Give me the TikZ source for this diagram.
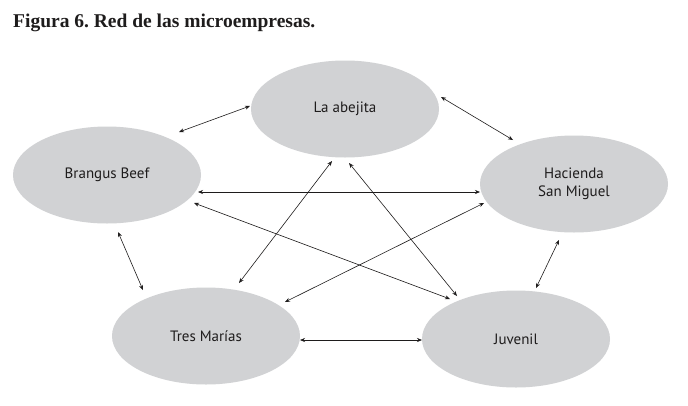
\documentclass[tikz,border=0pt]{standalone}
\usepackage{fontspec}
\setmainfont{Liberation Serif}
\newfontfamily\labelfont{PT Sans}
\usetikzlibrary{arrows.meta,calc,shapes.geometric}
\definecolor{ellgray}{RGB}{209,210,212}
\definecolor{txtcol}{RGB}{30,28,28}
\tikzset{
  firm/.style={ellipse, fill=ellgray, draw=none, inner sep=0pt,
    minimum width=188pt, minimum height=97pt, align=center,
    text=txtcol, font=\labelfont\fontsize{15}{18}\selectfont},
  link/.style={{Stealth[length=5pt,width=4pt]}-{Stealth[length=5pt,width=4pt]}, line width=0.6pt, draw=txtcol}
}
\begin{document}
\frenchspacing
\begin{tikzpicture}[x=1pt,y=-1pt]
\useasboundingbox[fill=white] (0,0) rectangle (688,405);
\node[anchor=base west, inner sep=0pt, text=txtcol, font=\bfseries\fontsize{19.5}{22}\selectfont] (title) at (13,27) {Figura 6. Red de las microempresas.};
\node[firm] (abe) at (345,109) {La abejita};
\node[firm] (bra) at (107,175) {Brangus Beef};
\node[firm] (hac) at (574,184) {Hacienda\\San Miguel};
\node[firm] (tre) at (206,336) {Tres Marías};
\node[firm] (juv) at (516,339) {Juvenil};
\draw[link] ($(bra)+(72,-43)$) -- ($(abe)+(-95,-3)$);
\draw[link] ($(abe)+(96,-12)$) -- ($(hac)+(-61,-44)$);
\draw[link] ($(bra)+(91,17)$) -- ($(hac)+(-94,8)$);
\draw[link] ($(bra)+(87,28)$) -- ($(juv)+(-66,-40)$);
\draw[link] ($(abe)+(4,54)$) -- ($(juv)+(-59,-43)$);
\draw[link] ($(abe)+(-13,52)$) -- ($(tre)+(33,-53)$);
\draw[link] ($(hac)+(-90,19)$) -- ($(tre)+(79,-34)$);
\draw[link] ($(tre)+(94,4)$) -- ($(juv)+(-94,1)$);
\draw[link] ($(bra)+(11,57)$) -- ($(tre)+(-63,-46)$);
\draw[link] ($(hac)+(-15,56)$) -- ($(juv)+(20,-51)$);
\end{tikzpicture}
\end{document}
